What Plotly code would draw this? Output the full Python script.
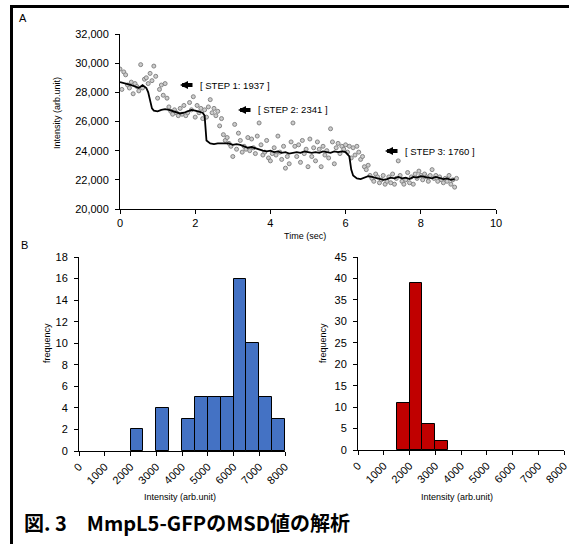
import plotly.graph_objects as go

W, H = 569, 544

# ---------------- Panel A data ----------------
time_pts = [0.00,0.05,0.10,0.15,0.20,0.25,0.30,0.35,0.40,0.45,0.50,0.55,0.60,0.65,0.70,0.75,0.80,0.85,0.90,0.95,
            1.00,1.05,1.10,1.15,1.20,1.25,1.30,1.35,1.40,1.45,1.50,1.55,1.60,1.65,1.70,1.75,1.80,1.85,1.90,1.95,
            2.00,2.05,2.10,2.15,2.20,2.25,2.30,2.35,2.40,2.45,2.50,2.55,2.60,2.65,2.70,2.75,2.80,2.85,2.90,2.95,
            3.00,3.05,3.10,3.15,3.20,3.25,3.30,3.35,3.40,3.45,3.50,3.55,3.60,3.65,3.70,3.75,3.80,3.85,3.90,3.95,
            4.00,4.05,4.10,4.15,4.20,4.25,4.30,4.35,4.40,4.45,4.50,4.55,4.60,4.65,4.70,4.75,4.80,4.85,4.90,4.95,
            5.00,5.05,5.10,5.15,5.20,5.25,5.30,5.35,5.40,5.45,5.50,5.55,5.60,5.65,5.70,5.75,5.80,5.85,5.90,5.95,
            6.00,6.05,6.10,6.15,6.20,6.25,6.30,6.35,6.40,6.45,6.50,6.55,6.60,6.65,6.70,6.75,6.80,6.85,6.90,6.95,
            7.00,7.05,7.10,7.15,7.20,7.25,7.30,7.35,7.40,7.45,7.50,7.55,7.60,7.65,7.70,7.75,7.80,7.85,7.90,7.95,
            8.00,8.05,8.10,8.15,8.20,8.25,8.30,8.35,8.40,8.45,8.50,8.55,8.60,8.65,8.70,8.75,8.80,8.85,8.90,8.95]
intensity_pts = [29600,28200,29400,29200,28500,28300,28700,27900,28600,28400,28100,29900,28300,28900,29000,28600,29300,28800,29800,29100,
                 27600,28200,28500,27800,28600,27600,27000,26700,26500,26800,26600,26400,26900,26500,27100,26400,26600,27300,26800,27700,
                 26300,27100,26600,26900,26200,26800,26300,27000,27500,26600,26900,26400,26700,25700,26200,25100,24700,24900,24500,24300,
                 23600,25800,24100,25200,24700,23900,24300,24100,24900,24000,24800,24200,23800,25000,25900,24400,23700,23900,24700,23500,
                 23300,23800,24200,23700,25000,23900,23400,24300,22800,23600,23100,24600,25900,24300,23600,24400,23200,24700,23800,24100,
                 22900,24800,23600,24200,23300,24600,24100,22900,24300,23700,24000,23500,25500,24600,23100,24200,24500,23800,24300,24100,
                 24400,23900,24300,23500,24200,23700,24300,23900,23400,23600,22900,22700,23000,22300,22100,21900,22400,22200,21800,22000,
                 22300,21700,21900,22200,21800,22400,21700,22100,23300,22300,21900,21700,22000,22500,21800,22200,21700,22400,22100,22600,
                 22300,22000,22400,22200,21900,22300,22700,22100,22300,21900,22200,22000,21800,22100,21900,22300,21700,22000,21500,22100]

time_fit = [0.0,0.1,0.2,0.3,0.4,0.5,0.6,0.7,0.75,0.8,0.85,0.9,1.0,1.1,1.2,1.3,1.4,1.5,1.6,1.7,1.8,1.9,2.0,2.1,2.2,2.25,
            2.3,2.4,2.5,2.6,2.7,2.8,2.9,3.0,3.1,3.2,3.3,3.4,3.5,3.6,3.7,3.8,3.9,4.0,4.1,4.2,4.3,4.4,4.5,4.6,4.7,4.8,4.9,
            5.0,5.1,5.2,5.3,5.4,5.5,5.6,5.7,5.8,5.9,6.0,6.1,6.15,6.2,6.3,6.4,6.5,6.6,6.7,6.8,6.9,7.0,7.1,7.2,7.3,7.4,7.5,
            7.6,7.7,7.8,7.9,8.0,8.1,8.2,8.3,8.4,8.5,8.6,8.7,8.8,8.9]
intensity_fit = [28700,28650,28600,28500,28400,28300,28500,28300,28000,27400,26900,26750,26700,26800,26850,26800,26700,26600,26550,26600,26700,26800,26750,26700,26600,26400,
                 24700,24500,24450,24500,24500,24450,24500,24400,24450,24400,24300,24200,24250,24150,24050,24000,23950,24000,23900,23950,23850,23900,23800,23850,23900,23850,23950,
                 23900,23850,23900,23850,23950,23900,23850,23950,23900,23950,23900,23600,22700,22300,22100,22050,22150,22250,22200,22150,22100,22000,22050,22150,22100,22200,22100,
                 22150,22050,22200,22150,22250,22200,22150,22100,22200,22150,22050,22100,22000,22050]

# ---------------- Panel B data ----------------
hist1_bin_start = [2000, 3000, 4000, 4500, 5000, 5500, 6000, 6500, 7000, 7500]
hist1_count = [2, 4, 3, 5, 5, 5, 16, 10, 5, 3]
hist2_bin_start = [1500, 2000, 2500, 3000]
hist2_count = [11, 39, 6, 2]
bin_width = 500

steps = [("[ STEP 1: 1937 ]", 180, 85), ("[ STEP 2: 2341 ]", 238, 110), ("[ STEP 3: 1760 ]", 385, 151)]

FONT = "Liberation Sans, Arial, sans-serif"

def px(x):
    return x / W

def py(y):
    return 1 - y / H

fig = go.Figure()

fig.add_trace(go.Scatter(x=time_pts, y=intensity_pts, mode="markers", xaxis="x", yaxis="y",
                         marker=dict(size=4, color="#cccccc", line=dict(color="#858585", width=1)),
                         showlegend=False))
fig.add_trace(go.Scatter(x=time_fit, y=intensity_fit, mode="lines", xaxis="x", yaxis="y",
                         line=dict(color="black", width=1.8), showlegend=False))

fig.add_trace(go.Bar(x=hist1_bin_start, y=hist1_count, width=bin_width, offset=0, xaxis="x2", yaxis="y2",
                     marker=dict(color="#4472C4", line=dict(color="black", width=1)), showlegend=False))
fig.add_trace(go.Bar(x=hist2_bin_start, y=hist2_count, width=bin_width, offset=0, xaxis="x3", yaxis="y3",
                     marker=dict(color="#C00000", line=dict(color="black", width=1)), showlegend=False))

axis_common = dict(showgrid=False, zeroline=False, showline=True, linecolor="black", linewidth=1,
                   ticks="outside", ticklen=4, tickcolor="black", automargin=False,
                   ticklabeloverflow="allow",
                   tickfont=dict(family=FONT, size=11, color="black"))

fig.update_layout(
    width=W, height=H, margin=dict(l=0, r=0, t=0, b=0, pad=0),
    paper_bgcolor="white", plot_bgcolor="white", bargap=0,
    xaxis=dict(domain=[px(120), px(496)], range=[0, 10], dtick=2, anchor="y", **axis_common),
    yaxis=dict(domain=[py(209), py(34)], range=[20000, 32000], dtick=2000, tickformat=",", anchor="x",
               ticklabelstandoff=4, **axis_common),
    xaxis2=dict(domain=[px(79), px(285)], range=[0, 8000], dtick=1000, tickangle=-45, anchor="y2", **axis_common),
    yaxis2=dict(domain=[py(451), py(257)], range=[0, 18], dtick=2, anchor="x2", ticklabelstandoff=4, **axis_common),
    xaxis3=dict(domain=[px(358), px(564)], range=[0, 8000], dtick=1000, tickangle=-45, anchor="y3", **axis_common),
    yaxis3=dict(domain=[py(450), py(257)], range=[0, 45], dtick=5, anchor="x3", ticklabelstandoff=4, **axis_common),
)

ann = []
def txt(text, x, y, size=9, angle=0, xanchor="center", family=FONT):
    ann.append(dict(text=text, x=px(x), y=py(y), xref="paper", yref="paper", showarrow=False,
                    textangle=angle, xanchor=xanchor, yanchor="middle",
                    font=dict(family=family, size=size, color="black")))

txt("A", 23, 18, size=11)
txt("B", 24, 245, size=11)
txt("Intensity (arb.unit)", 57, 113, size=9, angle=-90)
txt("Time (sec)", 305, 236, size=9)
txt("frequency", 47, 343, size=9, angle=-90)
txt("frequency", 323, 343, size=9, angle=-90)
txt("Intensity (arb.unit)", 180, 497, size=9)
txt("Intensity (arb.unit)", 457, 497, size=9)
txt("<b>図. 3　MmpL5-GFPのMSD値の解析</b>", 22, 522, size=20, xanchor="left",
    family="Noto Sans CJK JP, sans-serif")

for label, head_x, yy in steps:
    ann.append(dict(text="", x=px(head_x), y=py(yy), xref="paper", yref="paper",
                    showarrow=True, ax=14, ay=0, axref="pixel", ayref="pixel",
                    arrowhead=2, arrowsize=0.4, arrowwidth=4, arrowcolor="black"))
    txt(label, head_x + 18, yy, size=9.5, xanchor="left")

fig.update_layout(annotations=ann)

# frame lines (top and left)
fig.add_shape(type="line", xref="paper", yref="paper", x0=px(10), x1=1, y0=py(6.5), y1=py(6.5),
              line=dict(color="black", width=3))
fig.add_shape(type="line", xref="paper", yref="paper", x0=px(11.5), x1=px(11.5), y0=py(5), y1=0,
              line=dict(color="black", width=3))

fig.write_html("out.html", config={"displayModeBar": False},
               post_script="document.body.style.margin='0px';document.body.style.padding='0px';")
